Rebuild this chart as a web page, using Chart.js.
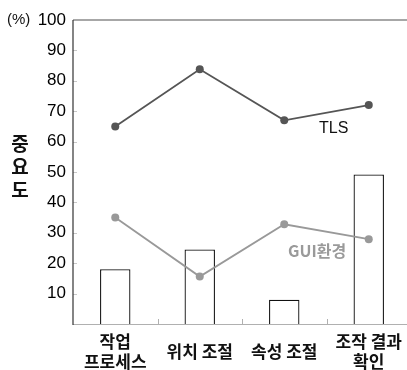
<!DOCTYPE html>
<html>
<head>
<meta charset="utf-8">
<script src="https://cdn.jsdelivr.net/npm/chart.js@4"></script>
<style>
  html, body { margin: 0; padding: 0; background: #fff; overflow: hidden; }
  #wrap { width: 415px; height: 370px; }
</style>
</head>
<body>
<div id="wrap"><canvas id="chart" width="415" height="370"></canvas></div>
<script>
const categories = [["작업", "프로세스"], ["위치 조절"], ["속성 조절"], ["조작 결과", "확인"]];
const barValues = [18, 24.5, 8, 49.2];
const tlsValues = [65, 83.8, 67, 72];
const guiValues = [35, 15.6, 32.8, 27.9];
const yTicks = [0, 10, 20, 30, 40, 50, 60, 70, 80, 90, 100];

const KO = "'Noto Sans CJK KR', 'Liberation Sans', sans-serif";

// extra text and small tick marks
const decor = {
  id: "decor",
  afterDraw(chart) {
    const { ctx, chartArea: a, scales } = chart;
    const x = scales.x, y = scales.y;
    ctx.save();
    // top border
    ctx.strokeStyle = "#8a8a8a";
    ctx.lineWidth = 1.5;
    ctx.beginPath();
    ctx.moveTo(a.left, a.top);
    ctx.lineTo(a.right, a.top);
    ctx.stroke();
    // bottom axis
    ctx.strokeStyle = "#b0b0b0";
    ctx.lineWidth = 1;
    ctx.beginPath();
    ctx.moveTo(a.left, a.bottom + 0.5);
    ctx.lineTo(a.right, a.bottom + 0.5);
    ctx.stroke();
    // x boundary ticks
    for (let i = 1; i < categories.length; i++) {
      const px = Math.round((x.getPixelForValue(i - 1) + x.getPixelForValue(i)) / 2) + 0.5;
      ctx.beginPath();
      ctx.moveTo(px, a.bottom);
      ctx.lineTo(px, a.bottom - 5);
      ctx.stroke();
    }
    // y ticks inside
    ctx.strokeStyle = "#c8c8c8";
    yTicks.forEach(v => {
      if (v === 0 || v === 100) return;
      const py = Math.round(y.getPixelForValue(v)) + 0.5;
      ctx.beginPath();
      ctx.moveTo(a.left, py);
      ctx.lineTo(a.left + 4, py);
      ctx.stroke();
    });
    // left axis
    ctx.strokeStyle = "#333";
    ctx.lineWidth = 1.2;
    ctx.beginPath();
    ctx.moveTo(a.left, a.top);
    ctx.lineTo(a.left, a.bottom + 1);
    ctx.stroke();

    // x category labels, centred vertically in the label band
    ctx.fillStyle = "#111";
    ctx.font = "bold 17px " + KO;
    ctx.textAlign = "center";
    ctx.textBaseline = "middle";
    categories.forEach((lines, i) => {
      const px = x.getPixelForValue(i);
      const mid = 352;
      lines.forEach((t, j) => {
        ctx.fillText(t, px, mid + (j - (lines.length - 1) / 2) * 20);
      });
    });

    // unit
    ctx.font = "15px 'Liberation Sans', sans-serif";
    ctx.textAlign = "left";
    ctx.fillText("(%)", 7, 20);
    // y title stacked
    ctx.font = "bold 19px " + KO;
    ctx.textAlign = "center";
    ["중", "요", "도"].forEach((c, i) => ctx.fillText(c, 20, 144 + i * 23));
    // series labels
    ctx.font = "16px 'Liberation Sans', sans-serif";
    ctx.textAlign = "left";
    ctx.fillStyle = "#111";
    ctx.fillText("TLS", 319, 129);
    ctx.font = "bold 16px " + KO;
    ctx.fillStyle = "#9a9a9a";
    ctx.fillText("GUI환경", 288, 251);
    ctx.restore();
  }
};

new Chart(document.getElementById("chart"), {
  data: {
    labels: categories,
    datasets: [
      {
        type: "line",
        label: "TLS",
        data: tlsValues,
        borderColor: "#555",
        backgroundColor: "#555",
        borderWidth: 1.8,
        pointRadius: 4,
        pointBorderWidth: 0,
        order: 1
      },
      {
        type: "line",
        label: "GUI환경",
        data: guiValues,
        borderColor: "#999",
        backgroundColor: "#999",
        borderWidth: 1.8,
        pointRadius: 4,
        pointBorderWidth: 0,
        order: 2
      },
      {
        type: "bar",
        label: "bar",
        data: barValues,
        backgroundColor: "#fff",
        borderColor: "#111",
        borderWidth: 1.3,
        barPercentage: 0.36,
        categoryPercentage: 1,
        order: 3
      }
    ]
  },
  options: {
    responsive: false,
    animation: false,
    layout: { padding: { top: 20, right: 4, left: 0, bottom: 0 } },
    plugins: { legend: { display: false }, tooltip: { enabled: false } },
    scales: {
      x: {
        grid: { display: false, drawTicks: false },
        border: { display: false },
        afterFit: s => { s.height = 46; },
        ticks: { display: false }
      },
      y: {
        min: 0,
        max: 100,
        afterFit: s => { s.width = 73; },
        afterBuildTicks: s => { s.ticks = yTicks.map(v => ({ value: v })); },
        grid: { display: false, drawTicks: false },
        border: { display: false },
        ticks: {
          color: "#000",
          padding: 7,
          font: { family: "'Liberation Sans', sans-serif", size: 17 },
          callback: v => (v === 0 ? "" : v)
        }
      }
    }
  },
  plugins: [decor]
});
</script>
</body>
</html>
